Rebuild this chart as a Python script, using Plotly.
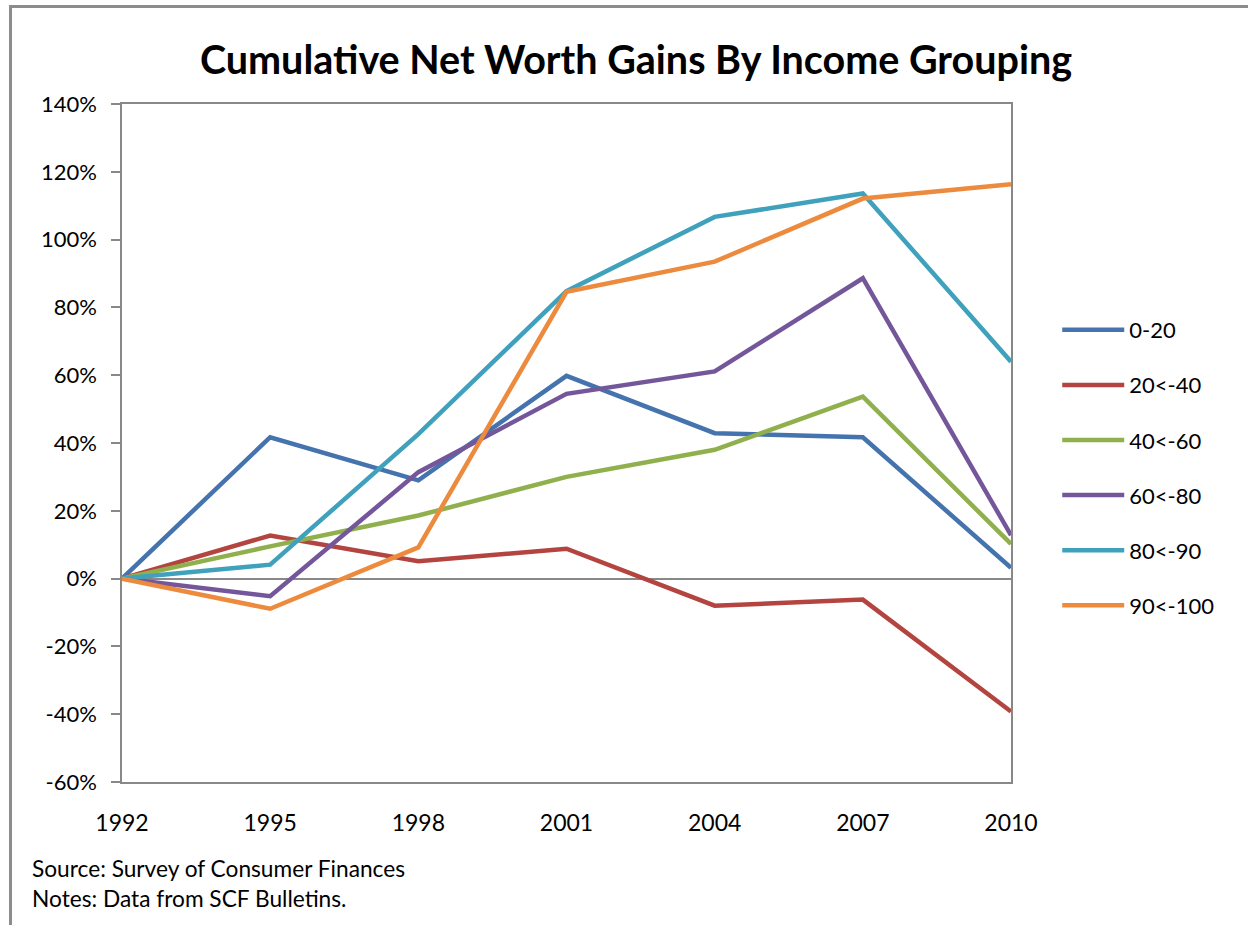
import plotly.graph_objects as go

years = ["1992", "1995", "1998", "2001", "2004", "2007", "2010"]
series_names = ["0-20", "20<-40", "40<-60", "60<-80", "80<-90", "90<-100"]
g0_20 = [0.0, 41.7, 29.0, 59.8, 42.9, 41.7, 3.2]
g20_40 = [0.0, 12.7, 5.1, 8.8, -8.0, -6.2, -39.2]
g40_60 = [0.0, 9.5, 18.6, 30.0, 38.0, 53.7, 10.2]
g60_80 = [0.0, -5.2, 31.4, 54.5, 61.1, 88.6, 12.8]
g80_90 = [0.0, 4.1, 42.6, 84.8, 106.7, 113.6, 64.0]
g90_100 = [0.0, -8.9, 9.2, 84.6, 93.5, 112.1, 116.3]
y_ticks = [-60, -40, -20, 0, 20, 40, 60, 80, 100, 120, 140]

colors = ["#4573AE", "#B3443F", "#8FB04C", "#74579A", "#40A1BC", "#EC8A3E"]
values = [g0_20, g20_40, g40_60, g60_80, g80_90, g90_100]

FONT = "Lato"
fig = go.Figure()
for name, vals, col in zip(series_names, values, colors):
    fig.add_trace(go.Scatter(
        x=years, y=vals, name=name, mode="lines", legendgroup=name,
        line=dict(color=col, width=4.5),
    ))

W, H = 1248, 925
L, R, T, B = 122, 1011, 104, 782
fig.update_layout(
    width=W, height=H,
    margin=dict(l=L, r=W - R, t=T, b=H - B, autoexpand=False),
    plot_bgcolor="white", paper_bgcolor="white",
    font=dict(family=FONT, color="#000000"),
    title=dict(text="<b>Cumulative Net Worth Gains By Income Grouping</b>",
               x=636 / W, xanchor="center", y=1 - 60 / H, yanchor="middle",
               font=dict(size=39.5, family=FONT, color="#000000")),
    showlegend=True,
    legend=dict(x=1.052, xanchor="left", y=(B - 309) / (B - T), yanchor="top",
                font=dict(size=22, family=FONT), tracegroupgap=23.5,
                itemwidth=62, bgcolor="rgba(0,0,0,0)"),
    xaxis=dict(type="category", range=[0, 6], showgrid=False,
               showline=True, linecolor="#888888", linewidth=1.5, mirror=True,
               ticks="", tickfont=dict(size=23, family=FONT), ticklabelstandoff=20),
    yaxis=dict(range=[-60, 140], tickvals=y_ticks,
               ticktext=[f"{v}%" for v in y_ticks],
               showgrid=False, zeroline=True, zerolinecolor="#888888", zerolinewidth=1.5,
               showline=True, linecolor="#888888", linewidth=1.5, mirror=True,
               ticks="outside", ticklen=9, tickcolor="#888888", tickwidth=1.5,
               ticklabelstandoff=10,
               tickfont=dict(size=22, family=FONT)),
)

pw, ph = R - L, B - T
fig.add_shape(type="rect", xref="paper", yref="paper",
              x0=(10.5 - L) / pw, x1=(1400 - L) / pw,
              y0=(B - 1100) / ph, y1=(B - 6.5) / ph,
              line=dict(color="#8C8C8C", width=3), layer="below")

fig.add_annotation(text="Source: Survey of Consumer Finances<br>Notes: Data from SCF Bulletins.",
                   xref="paper", yref="paper", x=(30 - L) / pw, y=(B - 883) / ph,
                   xanchor="left", yanchor="middle", align="left", showarrow=False,
                   font=dict(size=22.7, family=FONT, color="#000000"))

fig.write_html("out.html", config={"displayModeBar": False},
               post_script="document.body.style.margin='0';document.body.style.overflow='hidden';")
